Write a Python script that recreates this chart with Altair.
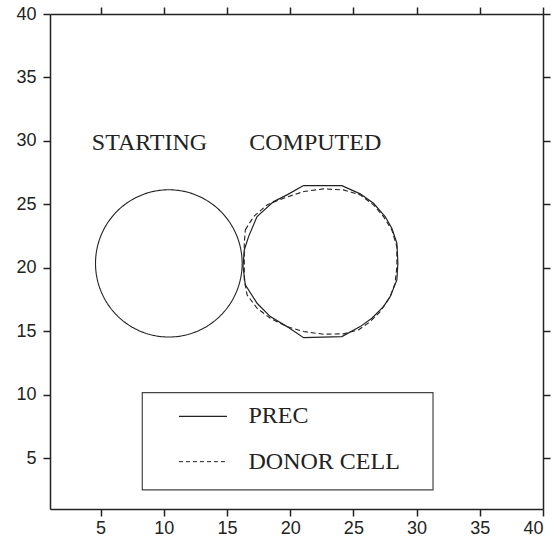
import altair as alt
import pandas as pd
import numpy as np

# ---- data ----
x_ticks = [5, 10, 15, 20, 25, 30, 35, 40]
y_ticks = [5, 10, 15, 20, 25, 30, 35, 40]

start_center_x = 10.4
start_center_y = 20.35
start_radius = 5.8

prec_x = [21.06, 24.09, 25.54, 26.59, 27.51, 28.04, 28.44, 28.52, 28.44, 27.91, 27.38, 26.46,
          25.54, 24.09, 21.06, 19.75, 18.43, 17.38, 16.45, 16.27, 16.37, 16.71, 17.38, 18.69,
          19.75, 21.06]
prec_y = [26.48, 26.48, 25.83, 25.09, 24.04, 23.12, 21.94, 20.37, 19.05, 17.73, 16.95, 16.03,
          15.37, 14.58, 14.50, 15.37, 16.16, 17.21, 18.66, 20.10, 21.41, 22.46, 24.04, 25.22,
          25.75, 26.48]

donor_x = [16.45, 17.11, 18.17, 19.48, 21.06, 22.64, 24.22, 25.54, 26.59, 27.38, 28.04, 28.44,
           28.44, 28.30, 27.91, 27.12, 26.33, 25.40, 24.22, 22.64, 21.06, 19.75, 18.43, 17.38,
           16.59, 16.37, 16.37, 16.37, 16.45]
donor_y = [22.99, 24.04, 24.96, 25.49, 26.01, 26.22, 26.14, 25.75, 24.96, 24.04, 22.99, 21.67,
           20.10, 18.79, 17.73, 16.55, 15.76, 15.11, 14.80, 14.77, 14.98, 15.37, 16.03, 16.82,
           17.87, 19.05, 20.63, 21.94, 22.99]

label_text = ["STARTING", "COMPUTED"]
label_x = [8.87, 21.98]
label_y = [29.85, 29.85]

legend_box_x = [8.3, 31.3]
legend_box_y = [2.5, 10.17]
legend_names = ["PREC", "DONOR CELL"]
legend_line_x = [11.2, 15.0]
legend_text_x = 16.7
legend_y = [8.3, 4.73]

# ---- tables ----
theta = np.linspace(0, 2 * np.pi, 241)
start_df = pd.DataFrame({
    "x": start_center_x + start_radius * np.cos(theta),
    "y": start_center_y + start_radius * np.sin(theta),
    "o": np.arange(len(theta)),
})
prec_df = pd.DataFrame({"x": prec_x, "y": prec_y, "o": range(len(prec_x))})
donor_df = pd.DataFrame({"x": donor_x, "y": donor_y, "o": range(len(donor_x))})
labels_df = pd.DataFrame({"x": label_x, "y": label_y, "t": label_text})
box_df = pd.DataFrame({"x": [legend_box_x[0]], "x2": [legend_box_x[1]],
                       "y": [legend_box_y[0]], "y2": [legend_box_y[1]]})
leg_solid_df = pd.DataFrame({"x": legend_line_x, "y": [legend_y[0]] * 2})
leg_dash_df = pd.DataFrame({"x": legend_line_x, "y": [legend_y[1]] * 2})
leg_text_df = pd.DataFrame({"x": [legend_text_x] * 2, "y": legend_y, "t": legend_names})

xs = alt.Scale(domain=[1, 40], nice=False, zero=False)
ys = alt.Scale(domain=[1, 40], nice=False, zero=False)

INK = "#222222"
common_axis = dict(grid=False, title=None, tickSize=7, tickWidth=1.5, tickColor=INK,
                   domainColor=INK, domainWidth=1.5, labelFont="Liberation Sans",
                   labelFontSize=18, labelColor=INK)
ax_bottom = alt.Axis(orient="bottom", values=x_ticks, labelPadding=3, **common_axis)
ax_left = alt.Axis(orient="left", values=y_ticks, labelPadding=7, **common_axis)
ax_top = alt.Axis(orient="top", values=x_ticks, labels=False, **common_axis)
ax_right = alt.Axis(orient="right", values=y_ticks, labels=False, **common_axis)

X = alt.X("x:Q", scale=xs, axis=ax_bottom)
Y = alt.Y("y:Q", scale=ys, axis=ax_left)

start = alt.Chart(start_df).mark_line(color=INK, strokeWidth=1.1).encode(x=X, y=Y, order="o:Q")
prec = alt.Chart(prec_df).mark_line(color=INK, strokeWidth=1.2).encode(x=X, y=Y, order="o:Q")
donor = alt.Chart(donor_df).mark_line(color=INK, strokeWidth=1.1, strokeDash=[5, 3]).encode(
    x=X, y=Y, order="o:Q")
labels = alt.Chart(labels_df).mark_text(font="Liberation Serif", fontSize=24, color=INK,
                                        align="center", baseline="middle").encode(
    x=X, y=Y, text="t:N")
box = alt.Chart(box_df).mark_rect(fillOpacity=0, stroke="#444444", strokeWidth=1.2).encode(
    x=X, x2="x2:Q", y=Y, y2="y2:Q")
leg_solid = alt.Chart(leg_solid_df).mark_line(color=INK, strokeWidth=1.1).encode(x=X, y=Y)
leg_dash = alt.Chart(leg_dash_df).mark_line(color=INK, strokeWidth=1.0, strokeDash=[4, 3]).encode(
    x=X, y=Y)
leg_text = alt.Chart(leg_text_df).mark_text(font="Liberation Serif", fontSize=24, color=INK,
                                            align="left", baseline="middle").encode(
    x=X, y=Y, text="t:N")

main = alt.layer(start, prec, donor, labels, box, leg_solid, leg_dash, leg_text)

mirror = alt.Chart(pd.DataFrame({"x": [x_ticks[0]], "y": [y_ticks[0]]})).mark_point(opacity=0).encode(
    x=alt.X("x:Q", scale=xs, axis=ax_top),
    y=alt.Y("y:Q", scale=ys, axis=ax_right),
)

chart = alt.layer(main, mirror).resolve_axis(x="independent", y="independent").properties(
    width=493, height=495,
    autosize=alt.AutoSizeParams(type="none"),
    padding={"left": 50, "top": 14, "right": 11, "bottom": 31},
).configure_view(stroke=None).configure(background="white")

chart.save("out.html", embed_options={"renderer": "svg", "actions": False})
